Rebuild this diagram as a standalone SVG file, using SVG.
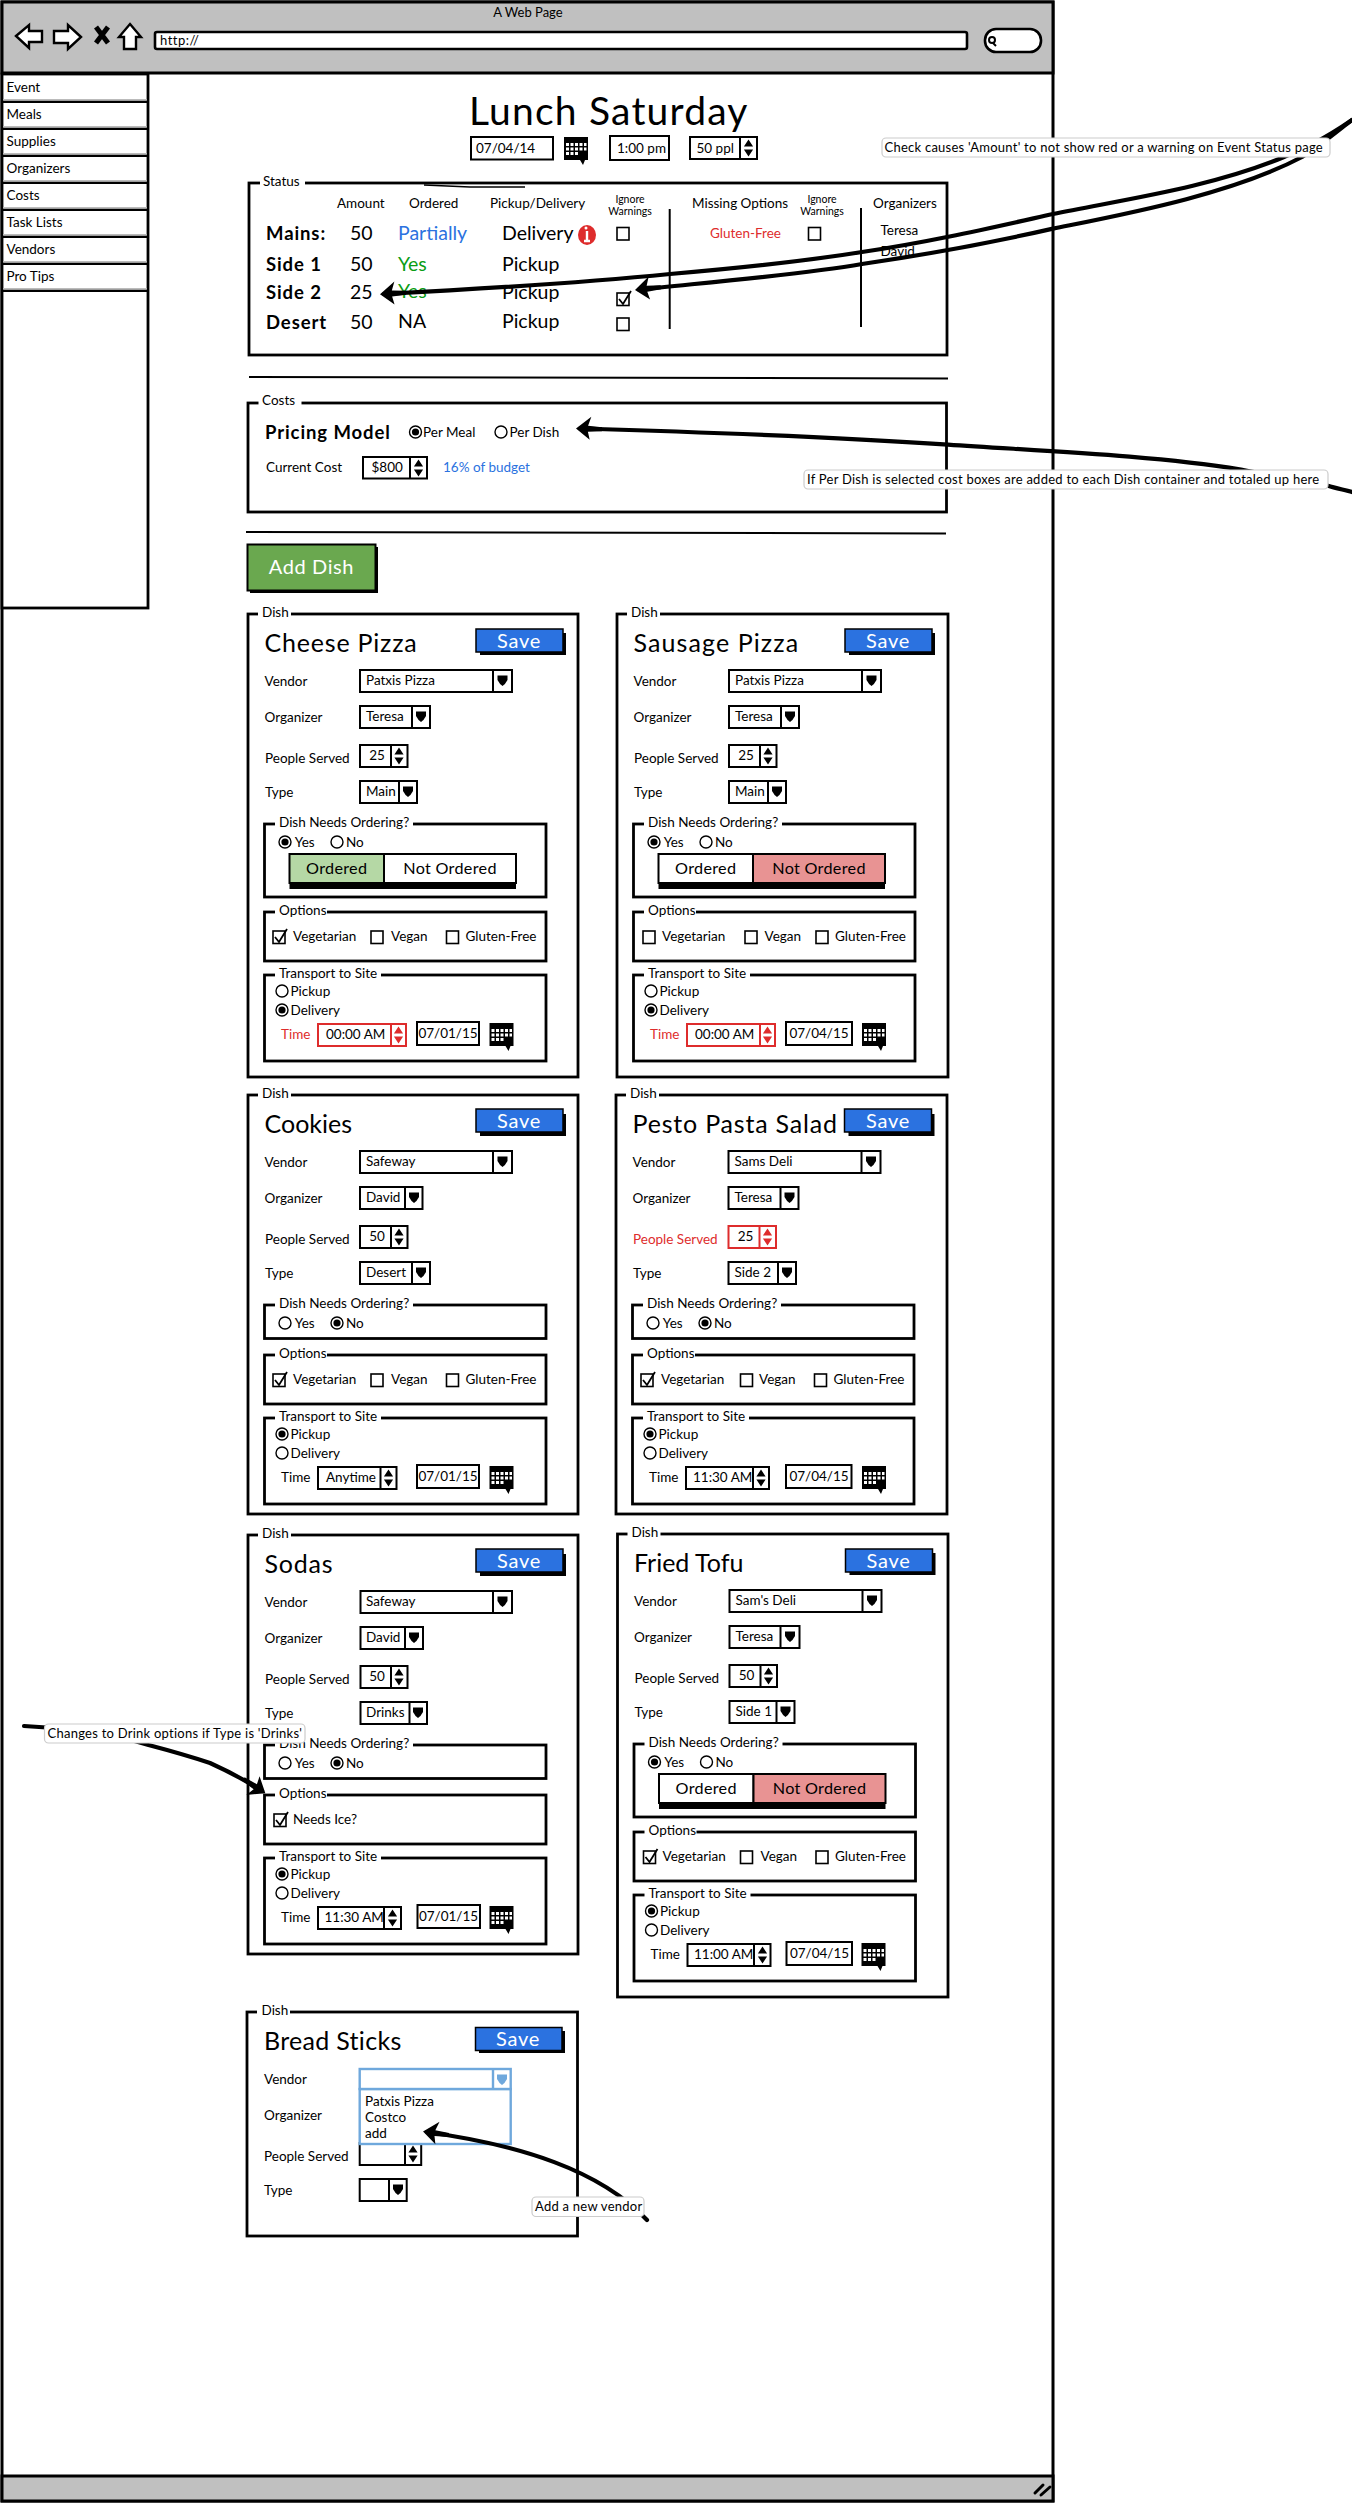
<svg xmlns="http://www.w3.org/2000/svg" width="1352" height="2503" viewBox="0 0 1352 2503">
<style>
text{font-family:"Lato","Liberation Sans",sans-serif;font-size:14px;fill:#000}
.b{fill:#fff;stroke:#000;stroke-width:2.8}
.c{fill:#fff;stroke:#000;stroke-width:2}
.l{fill:none;stroke:#000;stroke-width:2}
.w{fill:#fff;stroke:none}
.note{fill:#fff;stroke:#ccc;stroke-width:1.2}
.nt{font-size:13px;letter-spacing:.25px}
.title{font-size:25px;letter-spacing:.8px}
.lab{font-size:13.500px}
.red{fill:#de2c2c}
.rs{fill:#fff;stroke:#de2c2c;stroke-width:2}
.bs{fill:#fff;stroke:#6fa8dc;stroke-width:2.4}
.save{font-size:20px;fill:#fff;text-anchor:middle;letter-spacing:.8px}
.seg{font-size:16.200px;text-anchor:middle;letter-spacing:.3px}
.mid{text-anchor:middle}
.bold{font-weight:700;font-size:18.500px;letter-spacing:.9px}
.big{font-size:19.500px}
.arr{fill:none;stroke:#000;stroke-width:4.200;stroke-linecap:round;marker-end:url(#head)}
</style>
<defs>
<marker id="head" markerUnits="userSpaceOnUse" markerWidth="30" markerHeight="30" refX="25" refY="15" orient="auto">
<path d="M29,15L15,4L17,12L3,13V17L17,18L14,27Z" fill="#000"/>
</marker>
<path id="dn" d="M-5,-4.500H5V0Q3,4 0,6Q-3,4 -5,0Z"/>
<path id="spin" d="M0,-8.500L4.600,-1.500H-4.600ZM0,8.500L4.600,1.500H-4.600Z"/>
<g id="r0"><circle r="6" fill="#fff" stroke="#000" stroke-width="1.400"/></g>
<g id="r1"><circle r="6" fill="#fff" stroke="#000" stroke-width="1.400"/><circle r="3.600" fill="#000"/></g>
<rect id="ck0" width="12" height="12.500" fill="#fff" stroke="#000" stroke-width="1.600"/>
<g id="ck1"><rect width="12" height="12.500" fill="#fff" stroke="#000" stroke-width="1.600"/><path d="M2,6L6,11L14,-2" fill="none" stroke="#000" stroke-width="1.800"/></g>
<g id="cal"><path d="M0,0H24V23H21L19,28L16,23H0Z" fill="#000"/><path fill="#fff" d="M2,6h3v3h-3zM6.500,6h3v3h-3zM11,6h3v3h-3zM15.500,6h3v3h-3zM20,6h2.500v3h-2.500zM2,10.500h3v3h-3zM6.500,10.500h3v3h-3zM11,10.500h3v3h-3zM15.500,10.500h3v3h-3zM20,10.500h2.500v3h-2.500zM2,15h3v3h-3zM6.500,15h3v3h-3zM11,15h3v3h-3z"/></g>
</defs>

<g id="browser">
<rect x="2" y="2" width="1051" height="2499" fill="#fff" stroke="#000" stroke-width="3"/>
<rect x="2" y="2" width="1051" height="71" fill="#c0c0c0" stroke="#000" stroke-width="3"/>
<text x="528" y="17" class="mid" style="font-size:13px">A Web Page</text>
<path d="M16,36L29,25V31H42V42H29V48Z" fill="#fff" stroke="#000" stroke-width="2.400"/>
<path d="M81,37L68,25V31H54V43H68V49Z" fill="#fff" stroke="#000" stroke-width="2.400"/>
<path d="M96,27L108,43M108,27L96,43" stroke="#000" stroke-width="5" fill="none"/>
<path d="M130,24L141,37H136V49H124V37H119Z" fill="#fff" stroke="#000" stroke-width="2.400"/>
<rect x="155" y="32" width="812" height="17" rx="2" fill="#fff" stroke="#000" stroke-width="2.600"/>
<text x="160" y="45" style="font-size:13px;letter-spacing:.5px">http://</text>
<rect x="985" y="29" width="56" height="23" rx="11" fill="#fff" stroke="#000" stroke-width="2.600"/>
<circle cx="992" cy="40" r="3" fill="none" stroke="#000" stroke-width="2"/><path d="M993,43L996,46" stroke="#000" stroke-width="2"/>
<rect x="2" y="2476" width="1051" height="25" fill="#c0c0c0" stroke="#000" stroke-width="3"/>
<path d="M1035,2493L1043,2485M1041,2495L1050,2487" stroke="#000" stroke-width="3" stroke-linecap="round" fill="none"/>
</g>

<g id="sidebar">
<rect x="2" y="74" width="146" height="534" class="b"/>
<path d="M2,101.700H148M2,128.700H148M2,155.700H148M2,182.700H148M2,209.700H148M2,236.700H148M2,263.700H148M2,290.700H148" stroke="#000" stroke-width="2.600" fill="none"/>
<path d="M3,99.700H147M3,126.700H147M3,153.700H147M3,180.700H147M3,207.700H147M3,234.700H147M3,261.700H147M3,288.700H147" stroke="#bbb" stroke-width="1.500" fill="none"/>
<text x="6.500" y="92" class="lab">Event</text>
<text x="6.500" y="119" class="lab">Meals</text>
<text x="6.500" y="146" class="lab">Supplies</text>
<text x="6.500" y="173" class="lab">Organizers</text>
<text x="6.500" y="200" class="lab">Costs</text>
<text x="6.500" y="227" class="lab">Task Lists</text>
<text x="6.500" y="254" class="lab">Vendors</text>
<text x="6.500" y="281" class="lab">Pro Tips</text>
</g>

<g id="header">
<text x="469" y="125" style="font-size:39px;letter-spacing:1.200px">Lunch Saturday</text>
<rect x="471" y="137" width="82" height="22.500" class="c"/>
<text x="476" y="153" class="lab">07/04/14</text>
<use href="#cal" x="564" y="137"/>
<rect x="610" y="136" width="59" height="24" class="c"/>
<text x="617" y="153" class="lab">1:00 pm</text>
<rect x="690" y="137" width="67" height="22" class="c"/><path d="M740,137V159" class="l"/>
<text x="696.500" y="153" class="lab">50 ppl</text><use href="#spin" x="748.500" y="148"/>
</g>

<g id="status">
<rect x="249" y="183" width="698" height="172" class="b"/>
<rect x="260" y="178" width="45" height="10" class="w"/>
<text x="263" y="186" class="lab">Status</text>
<path d="M424,185L470,187L525,187" class="l" style="stroke-width:1.500"/>
<text x="337" y="208" class="lab">Amount</text>
<text x="409" y="208" class="lab">Ordered</text>
<text x="490" y="208" class="lab">Pickup/Delivery</text>
<text x="630" y="203" class="mid" style="font-size:10.500px">Ignore</text>
<text x="630" y="215" class="mid" style="font-size:10.500px">Warnings</text>
<text x="692" y="208" class="lab">Missing Options</text>
<text x="822" y="203" class="mid" style="font-size:10.500px">Ignore</text>
<text x="822" y="215" class="mid" style="font-size:10.500px">Warnings</text>
<text x="873" y="208" class="lab">Organizers</text>
<text x="266" y="240" class="bold">Mains:</text>
<text x="266" y="271" class="bold">Side 1</text>
<text x="266" y="299" class="bold">Side 2</text>
<text x="266" y="329" class="bold">Desert</text>
<text x="350" y="240" class="big">50</text>
<text x="350" y="271" class="big">50</text>
<text x="350" y="299" class="big">25</text>
<text x="350" y="329" class="big">50</text>
<text x="398" y="240" class="big" style="fill:#2b72e0">Partially</text>
<text x="398" y="271" class="big" style="fill:#0a9d14">Yes</text>
<text x="398" y="298" class="big" style="fill:#0a9d14">Yes</text>
<text x="398" y="328" class="big">NA</text>
<text x="502" y="240" class="big">Delivery</text>
<text x="502" y="271" class="big">Pickup</text>
<text x="502" y="299" class="big">Pickup</text>
<text x="502" y="328" class="big">Pickup</text>
<ellipse cx="587" cy="235" rx="9" ry="10" fill="#de2c2c"/>
<path d="M587,231V240M584,241H590" stroke="#fff" stroke-width="2.400" fill="none"/><circle cx="586" cy="228" r="1.500" fill="#fff"/>
<use href="#ck0" x="617" y="227.500"/><use href="#ck1" x="617" y="293"/><use href="#ck0" x="617" y="318"/>
<path d="M669.700,209V329" class="l"/>
<text x="710" y="238" style="font-size:13.500px;fill:#de2c2c">Gluten-Free</text>
<use href="#ck0" x="808.500" y="227.500"/>
<path d="M861,208V327" class="l"/>
<text x="880.500" y="235" class="lab">Teresa</text>
<text x="880.500" y="256" class="lab">David</text>
</g>
<path id="rule1" d="M249,377L948,378.500" class="l"/>

<g id="costs">
<rect x="248" y="403" width="698.500" height="109" class="b"/>
<rect x="258.500" y="398" width="43" height="10" class="w"/>
<text x="262" y="405" class="lab">Costs</text>
<text x="265" y="438.500" class="bold">Pricing Model</text>
<use href="#r1" x="415.500" y="432"/><text x="423" y="436.500" class="lab">Per Meal</text>
<use href="#r0" x="501" y="432"/><text x="509.500" y="436.500" class="lab">Per Dish</text>
<text x="266" y="471.500" class="lab">Current Cost</text>
<rect x="363" y="457" width="64" height="21.500" class="c"/><path d="M410,457V478.500" class="l"/>
<text x="371.500" y="471.500" class="lab">$800</text><use href="#spin" x="418.500" y="468"/>
<text x="443" y="471.500" class="lab" style="fill:#2b72e0">16% of budget</text>
</g>
<path id="rule2" d="M246,532L946,533.500" class="l"/>

<g id="add-dish">
<rect x="250" y="547" width="128" height="46" fill="#000"/>
<rect x="247.500" y="544.500" width="128" height="46" fill="#6aa84f" stroke="#000" stroke-width="2"/>
<text x="311.500" y="574" class="mid" style="font-size:20px;fill:#fff;letter-spacing:.6px">Add Dish</text>
</g>

<g id="dish-cheese" transform="translate(248,614)">
<rect width="330" height="463" class="b"/>
<rect x="10" y="-5" width="33" height="10" class="w"/><text x="14" y="3" class="lab">Dish</text>
<text x="16.500" y="38" class="title">Cheese Pizza</text>
<rect x="232" y="19" width="86" height="22" fill="#000"/><rect x="228" y="15" width="87" height="23" fill="#2b72e0" stroke="#000" stroke-width="1.500"/><text x="271" y="34" class="save">Save</text>
<text x="16.500" y="72" class="lab">Vendor</text>
<rect x="112" y="56" width="152" height="22" class="c"/><path d="M245,56V78" class="l"/><text x="118" y="71" class="lab">Patxis Pizza</text><use href="#dn" x="254.500" y="66"/>
<text x="16.500" y="108" class="lab">Organizer</text>
<rect x="112" y="92" width="70" height="22" class="c"/><path d="M164,92V114" class="l"/><text x="118" y="107" class="lab">Teresa</text><use href="#dn" x="173" y="102"/>
<text x="17" y="149" class="lab">People Served</text>
<rect x="112" y="131" width="47.500" height="22" class="c"/><path d="M143,131V153" class="l"/><text x="129" y="146" class="lab mid">25</text><use href="#spin" x="151" y="142"/>
<text x="17" y="183" class="lab">Type</text>
<rect x="112" y="167" width="57" height="22" class="c"/><path d="M151,167V189" class="l"/><text x="118" y="182" class="lab">Main</text><use href="#dn" x="160" y="177"/>
<rect x="16.500" y="210" width="281.500" height="73" class="b"/>
<rect x="27" y="205" width="138" height="10" class="w"/><text x="31" y="213" class="lab">Dish Needs Ordering?</text>
<use href="#r1" x="37" y="228"/><text x="46.700" y="233" class="lab">Yes</text>
<use href="#r0" x="89" y="228"/><text x="98" y="233" class="lab">No</text>
<rect x="41.500" y="244" width="226.500" height="31" fill="#000"/>
<rect x="41.500" y="240" width="94.500" height="29" fill="#b5d8a5" stroke="#000" stroke-width="2"/>
<rect x="136" y="240" width="132" height="29" fill="#fff" stroke="#000" stroke-width="2"/>
<text x="88.700" y="260" class="seg">Ordered</text><text x="202" y="260" class="seg">Not Ordered</text>
<rect x="16.500" y="298" width="281.500" height="49" class="b"/>
<rect x="27" y="293" width="52" height="10" class="w"/><text x="31" y="301" class="lab">Options</text>
<use href="#ck1" x="25" y="317"/><text x="45" y="327" class="lab">Vegetarian</text>
<use href="#ck0" x="123" y="317"/><text x="143" y="327" class="lab">Vegan</text>
<use href="#ck0" x="198.500" y="317"/><text x="217.500" y="327" class="lab">Gluten-Free</text>
<rect x="16.500" y="361" width="281.500" height="86" class="b"/>
<rect x="27" y="356" width="106" height="10" class="w"/><text x="31" y="364" class="lab">Transport to Site</text>
<use href="#r0" x="34" y="377"/><text x="42.500" y="382" class="lab">Pickup</text>
<use href="#r1" x="34" y="396"/><text x="42.500" y="401" class="lab">Delivery</text>
<text x="33" y="425" class="lab red">Time</text>
<rect x="70" y="410" width="88" height="22" class="rs"/><path d="M143,410V432" class="rs"/><text x="78" y="425" class="lab">00:00 AM</text><use href="#spin" x="150.500" y="421" fill="#de2c2c"/>
<rect x="169" y="408" width="62" height="23" class="c"/><text x="200" y="424" class="lab mid">07/01/15</text>
<use href="#cal" x="241.500" y="409"/>
</g>

<g id="dish-sausage" transform="translate(617,614)">
<rect width="331" height="463" class="b"/>
<rect x="10" y="-5" width="33" height="10" class="w"/><text x="14" y="3" class="lab">Dish</text>
<text x="16.500" y="38" class="title" style="letter-spacing:1.100px">Sausage Pizza</text>
<rect x="232" y="19" width="86" height="22" fill="#000"/><rect x="228" y="15" width="87" height="23" fill="#2b72e0" stroke="#000" stroke-width="1.500"/><text x="271" y="34" class="save">Save</text>
<text x="16.500" y="72" class="lab">Vendor</text>
<rect x="112" y="56" width="152" height="22" class="c"/><path d="M245,56V78" class="l"/><text x="118" y="71" class="lab">Patxis Pizza</text><use href="#dn" x="254.500" y="66"/>
<text x="16.500" y="108" class="lab">Organizer</text>
<rect x="112" y="92" width="70" height="22" class="c"/><path d="M164,92V114" class="l"/><text x="118" y="107" class="lab">Teresa</text><use href="#dn" x="173" y="102"/>
<text x="17" y="149" class="lab">People Served</text>
<rect x="112" y="131" width="47.500" height="22" class="c"/><path d="M143,131V153" class="l"/><text x="129" y="146" class="lab mid">25</text><use href="#spin" x="151" y="142"/>
<text x="17" y="183" class="lab">Type</text>
<rect x="112" y="167" width="57" height="22" class="c"/><path d="M151,167V189" class="l"/><text x="118" y="182" class="lab">Main</text><use href="#dn" x="160" y="177"/>
<rect x="16.500" y="210" width="281.500" height="73" class="b"/>
<rect x="27" y="205" width="138" height="10" class="w"/><text x="31" y="213" class="lab">Dish Needs Ordering?</text>
<use href="#r1" x="37" y="228"/><text x="46.700" y="233" class="lab">Yes</text>
<use href="#r0" x="89" y="228"/><text x="98" y="233" class="lab">No</text>
<rect x="41.500" y="244" width="226.500" height="31" fill="#000"/>
<rect x="41.500" y="240" width="94.500" height="29" fill="#fff" stroke="#000" stroke-width="2"/>
<rect x="136" y="240" width="132" height="29" fill="#e89393" stroke="#000" stroke-width="2"/>
<text x="88.700" y="260" class="seg">Ordered</text><text x="202" y="260" class="seg">Not Ordered</text>
<rect x="16.500" y="298" width="281.500" height="49" class="b"/>
<rect x="27" y="293" width="52" height="10" class="w"/><text x="31" y="301" class="lab">Options</text>
<use href="#ck0" x="26" y="317"/><text x="45" y="327" class="lab">Vegetarian</text>
<use href="#ck0" x="128" y="317"/><text x="147.500" y="327" class="lab">Vegan</text>
<use href="#ck0" x="199" y="317"/><text x="218" y="327" class="lab">Gluten-Free</text>
<rect x="16.500" y="361" width="281.500" height="86" class="b"/>
<rect x="27" y="356" width="106" height="10" class="w"/><text x="31" y="364" class="lab">Transport to Site</text>
<use href="#r0" x="34" y="377"/><text x="42.500" y="382" class="lab">Pickup</text>
<use href="#r1" x="34" y="396"/><text x="42.500" y="401" class="lab">Delivery</text>
<text x="33" y="425" class="lab red">Time</text>
<rect x="70" y="410" width="88" height="22" class="rs"/><path d="M143,410V432" class="rs"/><text x="78" y="425" class="lab">00:00 AM</text><use href="#spin" x="150.500" y="421" fill="#de2c2c"/>
<rect x="169" y="408" width="66" height="23" class="c"/><text x="202" y="424" class="lab mid">07/04/15</text>
<use href="#cal" x="245" y="409"/>
</g>

<g id="dish-cookies" transform="translate(248,1095)">
<rect width="330" height="419" class="b"/>
<rect x="10" y="-5" width="33" height="10" class="w"/><text x="14" y="3" class="lab">Dish</text>
<text x="16.500" y="38" class="title" style="letter-spacing:0">Cookies</text>
<rect x="232" y="19" width="86" height="22" fill="#000"/><rect x="228" y="14" width="87" height="23" fill="#2b72e0" stroke="#000" stroke-width="1.500"/><text x="271" y="33" class="save">Save</text>
<text x="16.500" y="72" class="lab">Vendor</text>
<rect x="112" y="56" width="152" height="22" class="c"/><path d="M245,56V78" class="l"/><text x="118" y="71" class="lab">Safeway</text><use href="#dn" x="254.500" y="66"/>
<text x="16.500" y="108" class="lab">Organizer</text>
<rect x="112" y="92" width="62.500" height="22" class="c"/><path d="M157,92V114" class="l"/><text x="118" y="107" class="lab">David</text><use href="#dn" x="166" y="102"/>
<text x="17" y="149" class="lab">People Served</text>
<rect x="112" y="131" width="47.500" height="22" class="c"/><path d="M143,131V153" class="l"/><text x="129" y="146" class="lab mid">50</text><use href="#spin" x="151" y="142"/>
<text x="17" y="183" class="lab">Type</text>
<rect x="112" y="167" width="70" height="22" class="c"/><path d="M164,167V189" class="l"/><text x="118" y="182" class="lab">Desert</text><use href="#dn" x="173" y="177"/>
<rect x="16.500" y="210" width="281.500" height="33.500" class="b"/>
<rect x="27" y="205" width="138" height="10" class="w"/><text x="31" y="213" class="lab">Dish Needs Ordering?</text>
<use href="#r0" x="37" y="228"/><text x="46.700" y="233" class="lab">Yes</text>
<use href="#r1" x="89" y="228"/><text x="98" y="233" class="lab">No</text>
<g transform="translate(0,-38)">
<rect x="16.500" y="298" width="281.500" height="49" class="b"/>
<rect x="27" y="293" width="52" height="10" class="w"/><text x="31" y="301" class="lab">Options</text>
<use href="#ck1" x="25" y="317"/><text x="45" y="327" class="lab">Vegetarian</text>
<use href="#ck0" x="123" y="317"/><text x="143" y="327" class="lab">Vegan</text>
<use href="#ck0" x="198.500" y="317"/><text x="217.500" y="327" class="lab">Gluten-Free</text>
<rect x="16.500" y="361" width="281.500" height="86" class="b"/>
<rect x="27" y="356" width="106" height="10" class="w"/><text x="31" y="364" class="lab">Transport to Site</text>
<use href="#r1" x="34" y="377"/><text x="42.500" y="382" class="lab">Pickup</text>
<use href="#r0" x="34" y="396"/><text x="42.500" y="401" class="lab">Delivery</text>
<text x="33" y="425" class="lab">Time</text>
<rect x="70" y="410" width="78.500" height="22" class="c"/><path d="M132.500,410V432" class="l"/><text x="78" y="425" class="lab">Anytime</text><use href="#spin" x="140.500" y="421"/>
<rect x="169" y="408" width="62" height="23" class="c"/><text x="200" y="424" class="lab mid">07/01/15</text>
<use href="#cal" x="241.500" y="409"/>
</g>
</g>

<g id="dish-pesto" transform="translate(616,1095)">
<rect width="331" height="419" class="b"/>
<rect x="10" y="-5" width="33" height="10" class="w"/><text x="14" y="3" class="lab">Dish</text>
<text x="16.500" y="38" class="title">Pesto Pasta Salad</text>
<rect x="232.500" y="19" width="86" height="22" fill="#000"/><rect x="228.500" y="14" width="87" height="23" fill="#2b72e0" stroke="#000" stroke-width="1.500"/><text x="272" y="33" class="save">Save</text>
<text x="16.500" y="72" class="lab">Vendor</text>
<rect x="112.500" y="56" width="152" height="22" class="c"/><path d="M245.500,56V78" class="l"/><text x="118.500" y="71" class="lab">Sams Deli</text><use href="#dn" x="255" y="66"/>
<text x="16.500" y="108" class="lab">Organizer</text>
<rect x="112.500" y="92" width="70" height="22" class="c"/><path d="M164.500,92V114" class="l"/><text x="118.500" y="107" class="lab">Teresa</text><use href="#dn" x="173.500" y="102"/>
<text x="17" y="149" class="lab red">People Served</text>
<rect x="112.500" y="131" width="47.500" height="22" class="rs"/><path d="M143.500,131V153" class="rs"/><text x="129.500" y="146" class="lab mid">25</text><use href="#spin" x="151.500" y="142" fill="#de2c2c"/>
<text x="17" y="183" class="lab">Type</text>
<rect x="112.500" y="167" width="67.500" height="22" class="c"/><path d="M162,167V189" class="l"/><text x="118.500" y="182" class="lab">Side 2</text><use href="#dn" x="171" y="177"/>
<rect x="16.500" y="210" width="281.500" height="33.500" class="b"/>
<rect x="27" y="205" width="138" height="10" class="w"/><text x="31" y="213" class="lab">Dish Needs Ordering?</text>
<use href="#r0" x="37" y="228"/><text x="46.700" y="233" class="lab">Yes</text>
<use href="#r1" x="89" y="228"/><text x="98" y="233" class="lab">No</text>
<g transform="translate(0,-38)">
<rect x="16.500" y="298" width="281.500" height="49" class="b"/>
<rect x="27" y="293" width="52" height="10" class="w"/><text x="31" y="301" class="lab">Options</text>
<use href="#ck1" x="25" y="317"/><text x="45" y="327" class="lab">Vegetarian</text>
<use href="#ck0" x="124.500" y="317"/><text x="143" y="327" class="lab">Vegan</text>
<use href="#ck0" x="198.500" y="317"/><text x="217.500" y="327" class="lab">Gluten-Free</text>
<rect x="16.500" y="361" width="281.500" height="86" class="b"/>
<rect x="27" y="356" width="106" height="10" class="w"/><text x="31" y="364" class="lab">Transport to Site</text>
<use href="#r1" x="34" y="377"/><text x="42.500" y="382" class="lab">Pickup</text>
<use href="#r0" x="34" y="396"/><text x="42.500" y="401" class="lab">Delivery</text>
<text x="33" y="425" class="lab">Time</text>
<rect x="70" y="410" width="83" height="22" class="c"/><path d="M137,410V432" class="l"/><text x="77" y="425" class="lab">11:30 AM</text><use href="#spin" x="145" y="421"/>
<rect x="170" y="408" width="65.500" height="23" class="c"/><text x="203" y="424" class="lab mid">07/04/15</text>
<use href="#cal" x="246" y="409"/>
</g>
</g>

<g id="dish-sodas" transform="translate(248,1535)">
<rect width="330" height="419" class="b"/>
<rect x="10" y="-5" width="33" height="10" class="w"/><text x="14" y="3" class="lab">Dish</text>
<text x="16.500" y="38" class="title">Sodas</text>
<rect x="232" y="19" width="86" height="22" fill="#000"/><rect x="228" y="14" width="87" height="23" fill="#2b72e0" stroke="#000" stroke-width="1.500"/><text x="271" y="33" class="save">Save</text>
<text x="16.500" y="72" class="lab">Vendor</text>
<rect x="112.500" y="56" width="151.500" height="22" class="c"/><path d="M245,56V78" class="l"/><text x="118" y="71" class="lab">Safeway</text><use href="#dn" x="254.500" y="66"/>
<text x="16.500" y="108" class="lab">Organizer</text>
<rect x="112.500" y="92" width="62.500" height="22" class="c"/><path d="M157,92V114" class="l"/><text x="118" y="107" class="lab">David</text><use href="#dn" x="166" y="102"/>
<text x="17" y="149" class="lab">People Served</text>
<rect x="112.500" y="131" width="47" height="22" class="c"/><path d="M143,131V153" class="l"/><text x="129" y="146" class="lab mid">50</text><use href="#spin" x="151" y="142"/>
<text x="17" y="183" class="lab">Type</text>
<rect x="112.500" y="167" width="66.500" height="22" class="c"/><path d="M161.500,167V189" class="l"/><text x="118" y="182" class="lab">Drinks</text><use href="#dn" x="170" y="177"/>
<rect x="16.500" y="210" width="281.500" height="33.500" class="b"/>
<rect x="27" y="205" width="138" height="10" class="w"/><text x="31" y="213" class="lab">Dish Needs Ordering?</text>
<use href="#r0" x="37" y="228"/><text x="46.700" y="233" class="lab">Yes</text>
<use href="#r1" x="89" y="228"/><text x="98" y="233" class="lab">No</text>
<g transform="translate(0,-38)">
<rect x="16.500" y="298" width="281.500" height="49" class="b"/>
<rect x="27" y="293" width="52" height="10" class="w"/><text x="31" y="301" class="lab">Options</text>
<use href="#ck1" x="26" y="317"/><text x="45" y="327" class="lab">Needs Ice?</text>
<rect x="16.500" y="361" width="281.500" height="86" class="b"/>
<rect x="27" y="356" width="106" height="10" class="w"/><text x="31" y="364" class="lab">Transport to Site</text>
<use href="#r1" x="34" y="377"/><text x="42.500" y="382" class="lab">Pickup</text>
<use href="#r0" x="34" y="396"/><text x="42.500" y="401" class="lab">Delivery</text>
<text x="33" y="425" class="lab">Time</text>
<rect x="70" y="410" width="83" height="22" class="c"/><path d="M136,410V432" class="l"/><text x="76.500" y="425" class="lab">11:30 AM</text><use href="#spin" x="144.500" y="421"/>
<rect x="169.500" y="408" width="62.500" height="23" class="c"/><text x="200.500" y="424" class="lab mid">07/01/15</text>
<use href="#cal" x="241.500" y="409"/>
</g>
</g>

<g id="dish-tofu" transform="translate(617.500,1534)">
<rect width="330.500" height="463" class="b"/>
<rect x="10" y="-5" width="33" height="10" class="w"/><text x="14" y="3" class="lab">Dish</text>
<text x="16.500" y="38" class="title" style="letter-spacing:0">Fried Tofu</text>
<rect x="232" y="19" width="86" height="22" fill="#000"/><rect x="228" y="15" width="87" height="23" fill="#2b72e0" stroke="#000" stroke-width="1.500"/><text x="271" y="34" class="save">Save</text>
<text x="16.500" y="72" class="lab">Vendor</text>
<rect x="112" y="56" width="152" height="22" class="c"/><path d="M245,56V78" class="l"/><text x="118" y="71" class="lab">Sam's Deli</text><use href="#dn" x="254.500" y="66"/>
<text x="16.500" y="108" class="lab">Organizer</text>
<rect x="112" y="92" width="70" height="22" class="c"/><path d="M163,92V114" class="l"/><text x="118" y="107" class="lab">Teresa</text><use href="#dn" x="172.500" y="102"/>
<text x="17" y="149" class="lab">People Served</text>
<rect x="112" y="131" width="47.500" height="22" class="c"/><path d="M143,131V153" class="l"/><text x="129" y="146" class="lab mid">50</text><use href="#spin" x="151" y="142"/>
<text x="17" y="183" class="lab">Type</text>
<rect x="112" y="167" width="65" height="22" class="c"/><path d="M159,167V189" class="l"/><text x="118" y="182" class="lab">Side 1</text><use href="#dn" x="168" y="177"/>
<rect x="16.500" y="210" width="281.500" height="73" class="b"/>
<rect x="27" y="205" width="138" height="10" class="w"/><text x="31" y="213" class="lab">Dish Needs Ordering?</text>
<use href="#r1" x="37" y="228"/><text x="46.700" y="233" class="lab">Yes</text>
<use href="#r0" x="89" y="228"/><text x="98" y="233" class="lab">No</text>
<rect x="41.500" y="244" width="226.500" height="31" fill="#000"/>
<rect x="41.500" y="240" width="94.500" height="29" fill="#fff" stroke="#000" stroke-width="2"/>
<rect x="136" y="240" width="132" height="29" fill="#e89393" stroke="#000" stroke-width="2"/>
<text x="88.700" y="260" class="seg">Ordered</text><text x="202" y="260" class="seg">Not Ordered</text>
<rect x="16.500" y="298" width="281.500" height="49" class="b"/>
<rect x="27" y="293" width="52" height="10" class="w"/><text x="31" y="301" class="lab">Options</text>
<use href="#ck1" x="26" y="317"/><text x="45" y="327" class="lab">Vegetarian</text>
<use href="#ck0" x="123" y="317"/><text x="143" y="327" class="lab">Vegan</text>
<use href="#ck0" x="198.500" y="317"/><text x="217.500" y="327" class="lab">Gluten-Free</text>
<rect x="16.500" y="361" width="281.500" height="86" class="b"/>
<rect x="27" y="356" width="106" height="10" class="w"/><text x="31" y="364" class="lab">Transport to Site</text>
<use href="#r1" x="34" y="377"/><text x="42.500" y="382" class="lab">Pickup</text>
<use href="#r0" x="34" y="396"/><text x="42.500" y="401" class="lab">Delivery</text>
<text x="33" y="425" class="lab">Time</text>
<rect x="70" y="410" width="83" height="22" class="c"/><path d="M136.500,410V432" class="l"/><text x="76.500" y="425" class="lab">11:00 AM</text><use href="#spin" x="145" y="421"/>
<rect x="169" y="408" width="65.500" height="23" class="c"/><text x="202" y="424" class="lab mid">07/04/15</text>
<use href="#cal" x="244" y="409"/>
</g>

<g id="dish-bread" transform="translate(247,2012)">
<rect width="330.500" height="224" class="b"/>
<rect x="10" y="-5" width="33" height="10" class="w"/><text x="14.500" y="3" class="lab">Dish</text>
<text x="17" y="37.500" class="title" style="letter-spacing:.3px">Bread Sticks</text>
<rect x="232" y="19" width="86" height="22" fill="#000"/><rect x="228.500" y="15.500" width="86.500" height="23" fill="#2b72e0" stroke="#000" stroke-width="1.500"/><text x="271" y="34" class="save">Save</text>
<text x="17" y="72" class="lab">Vendor</text>
<text x="17" y="108" class="lab">Organizer</text>
<text x="17" y="149" class="lab">People Served</text>
<rect x="112.700" y="131" width="61.500" height="22" class="c"/><path d="M158,131V153" class="l"/><use href="#spin" x="166" y="142"/>
<text x="17" y="183" class="lab">Type</text>
<rect x="112.700" y="167" width="47" height="22" class="c"/><path d="M142,167V189" class="l"/><use href="#dn" x="151" y="177"/>
<rect x="112.700" y="77" width="151" height="55" class="bs"/>
<text x="118" y="94" class="lab">Patxis Pizza</text><text x="118" y="110" class="lab">Costco</text><text x="118" y="126" class="lab">add</text>
<rect x="112.700" y="57" width="151" height="20" class="bs"/><path d="M246,57V77" class="bs"/><use href="#dn" x="255" y="67" fill="#6fa8dc"/>
</g>

<g id="connectors">
<path class="arr" d="M1352,120C1320,142 1300,150 1284,157C1210,188 1120,200 1053,214C990,228 930,242 862,252C800,262 740,268 670,274C590,282 500,288 384,294"/>
<path class="arr" d="M1352,120C1345,125 1320,146 1302,157C1230,195 1120,215 1053,228.600C990,243 930,254 862,264C800,275 700,283 639,289.500"/>
<path class="arr" d="M1352,492C1345,490 1335,488 1328,485.700C1300,478 1270,476 1241,469.600C1150,455 1040,451 948,444.600C820,436 700,432 580,428.500"/>
<path class="arr" d="M24,1726C60,1728 110,1733 148.500,1745C175,1752 195,1758 210,1763C230,1772 245,1780 262,1791"/>
<path class="arr" d="M647,2220C600,2170 520,2145 427,2132"/>
</g>

<g id="note-amount">
<rect x="882" y="138" width="448" height="19" rx="4" class="note"/>
<text x="884.500" y="152" class="nt">Check causes 'Amount' to not show red or a warning on Event Status page</text>
</g>
<g id="note-perdish">
<rect x="804" y="470" width="524" height="19" rx="4" class="note"/>
<text x="807" y="484" class="nt">If Per Dish is selected cost boxes are added to each Dish container and totaled up here</text>
</g>
<g id="note-drinks">
<rect x="44.500" y="1724" width="260.500" height="19" rx="4" class="note"/>
<text x="47.500" y="1738" class="nt">Changes to Drink options if Type is 'Drinks'</text>
</g>
<g id="note-vendor">
<rect x="532" y="2197" width="112" height="19.500" rx="4" class="note"/>
<text x="535" y="2211" class="nt">Add a new vendor</text>
</g>
</svg>
